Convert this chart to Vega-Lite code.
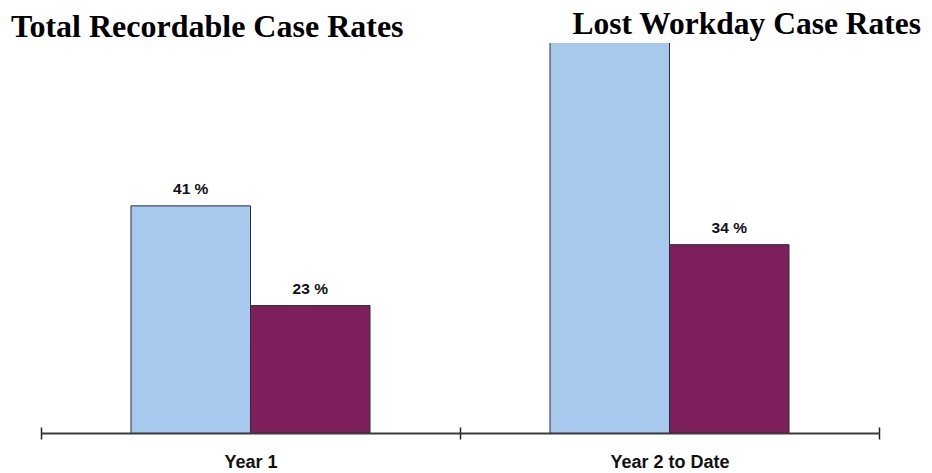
{
  "$schema": "https://vega.github.io/schema/vega-lite/v6.json",
  "width": 838,
  "height": 390,
  "autosize": {"type": "none"},
  "padding": {"left": 41, "top": 43, "right": 53, "bottom": 40},
  "background": "white",
  "config": {"view": {"stroke": null}},
  "title": {
    "text": "Total Recordable Case Rates",
    "anchor": "start",
    "frame": "group",
    "font": "Liberation Serif",
    "fontSize": 32,
    "fontWeight": "bold",
    "color": "black",
    "baseline": "alphabetic",
    "dx": -30,
    "dy": 75,
    "offset": 0
  },
  "data": {
    "values": [
      {"period": "Year 1", "series": "Total Recordable Case Rates", "rate": 41, "label": "41 %"},
      {"period": "Year 1", "series": "Lost Workday Case Rates", "rate": 23, "label": "23 %"},
      {"period": "Year 2 to Date", "series": "Total Recordable Case Rates", "rate": 75, "label": ""},
      {"period": "Year 2 to Date", "series": "Lost Workday Case Rates", "rate": 34, "label": "34 %"}
    ]
  },
  "encoding": {
    "xOffset": {
      "field": "series",
      "type": "nominal",
      "sort": ["Total Recordable Case Rates", "Lost Workday Case Rates"],
      "scale": {"paddingInner": 0, "paddingOuter": 0.753}
    },
    "y": {
      "field": "rate",
      "type": "quantitative",
      "scale": {"domain": [0, 70.4], "nice": false, "zero": true},
      "axis": null
    }
  },
  "resolve": {"axis": {"x": "independent"}},
  "layer": [
    {
      "mark": {"type": "bar", "clip": true, "stroke": "#2e2e3a", "strokeWidth": 1, "cornerRadius": 0},
      "encoding": {
        "x": {
          "field": "period",
          "type": "nominal",
          "sort": ["Year 1", "Year 2 to Date"],
          "scale": {"paddingInner": 0, "paddingOuter": 0},
          "axis": {
            "orient": "bottom",
            "title": null,
            "labelAngle": 0,
            "tickBand": "extent",
            "domainColor": "#3c3c3c",
            "domainWidth": 2,
            "tickColor": "#222222",
            "tickWidth": 1.5,
            "tickSize": 6,
            "labelPadding": 14,
            "labelFont": "Liberation Sans",
            "labelFontSize": 18,
            "labelFontWeight": "bold",
            "labelColor": "#111111"
          }
        },
        "color": {
          "field": "series",
          "type": "nominal",
          "scale": {
            "domain": ["Total Recordable Case Rates", "Lost Workday Case Rates"],
            "range": ["#A7C9EE", "#7D1F5B"]
          },
          "legend": {
            "values": ["Lost Workday Case Rates"],
            "orient": "none",
            "legendX": 500,
            "legendY": -34,
            "title": null,
            "padding": 0,
            "symbolSize": 0,
            "symbolOpacity": 0,
            "symbolStrokeWidth": 0,
            "labelOffset": 0,
            "labelLimit": 1000,
            "labelFont": "Liberation Serif",
            "labelFontSize": 31.5,
            "labelFontWeight": "bold",
            "labelColor": "black"
          }
        }
      }
    },
    {
      "mark": {
        "type": "text",
        "baseline": "alphabetic",
        "dy": -12,
        "font": "Liberation Sans",
        "fontSize": 15.5,
        "fontWeight": "bold",
        "color": "#111111"
      },
      "encoding": {
        "x": {
          "field": "period",
          "type": "nominal",
          "sort": ["Year 1", "Year 2 to Date"],
          "axis": {
            "orient": "bottom",
            "title": null,
            "labels": false,
            "domain": false,
            "tickBand": "extent",
            "tickColor": "#222222",
            "tickWidth": 1.5,
            "tickSize": -6
          }
        },
        "text": {"field": "label"}
      }
    }
  ]
}
